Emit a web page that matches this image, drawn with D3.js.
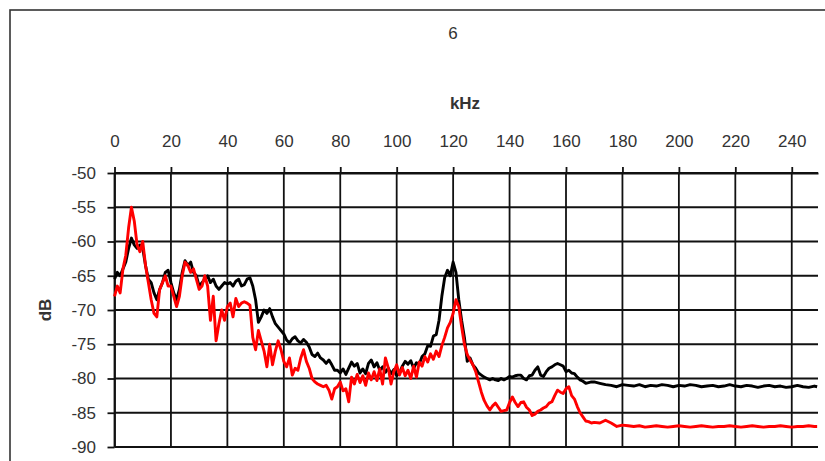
<!DOCTYPE html>
<html>
<head>
<meta charset="utf-8">
<script src="https://cdn.jsdelivr.net/npm/d3@7"></script>
<style>
    html, body { margin: 0; padding: 0; background: #fff; }
    svg { display: block; font-family: "Liberation Sans", Arial, sans-serif; }
    .tick text { font-size: 17px; fill: #333; }
    .grid-line { stroke: #111; stroke-width: 1.8; }
    .axis path, .axis line { stroke: #111; stroke-width: 1.8; }
</style>
</head>
<body>
<div class="d3-graph"></div>
<script>
// chart values
var chartTitle = '6';
var xTitle = 'kHz';
var yTitle = 'dB';

var xTicks = [0, 20, 40, 60, 80, 100, 120, 140, 160, 180, 200, 220, 240];
var yTicks = [-50, -55, -60, -65, -70, -75, -80, -85, -90];

// frequency (kHz) of each sample
var freq = [
    0, 1, 2, 3, 4, 5, 6, 7, 8, 9, 10, 11, 12, 13, 14, 15, 16, 17, 18, 19,
    20, 21, 22, 23, 24, 25, 26, 27, 28, 29, 30, 31, 32, 33, 34, 35, 36, 37, 38, 39,
    40, 41, 42, 43, 44, 45, 46, 47, 48, 49, 50, 51, 52, 53, 54, 55, 56, 57, 58, 59,
    60, 61, 62, 63, 64, 65, 66, 67, 68, 69, 70, 71, 72, 73, 74, 75, 76, 77, 78, 79,
    80, 81, 82, 83, 84, 85, 86, 87, 88, 89, 90, 91, 92, 93, 94, 95, 96, 97, 98, 99,
    100, 101, 102, 103, 104, 105, 106, 107, 108, 109, 110, 111, 112, 113, 114, 115, 116, 117, 118, 119,
    120, 121, 122, 123, 124, 125, 126, 127, 128, 129, 130, 131, 132, 133, 134, 135, 136, 137, 138, 139,
    140, 141, 142, 143, 144, 145, 146, 147, 148, 149, 150, 151, 152, 153, 154, 155, 156, 157, 158, 159,
    160, 161, 162, 163, 164, 165, 166, 167, 168, 169, 170,
    172, 174, 176, 178, 180, 182, 184, 186, 188, 190, 192, 194, 196, 198, 200, 202, 204, 206, 208, 210,
    212, 214, 216, 218, 220, 222, 224, 226, 228, 230, 232, 234, 236, 238, 240, 242, 244, 246, 248, 249
];

// black trace (dB)
var blackDb = [
    -65.5, -64.5, -65, -64, -63, -61, -59.5, -60.5, -61, -60.5,
    -61, -63.5, -65.5, -66, -67.5, -68.5, -67, -66, -64.5, -64.2,
    -66, -67.5, -68.5, -67, -64.5, -62.8, -63.5, -63, -64.5, -65,
    -66.5, -66, -65.5, -65, -66, -65.5, -66.5, -67, -66.5, -66,
    -66.2, -66, -66.5, -65.8, -65.5, -66.5, -66.3, -65.5, -65.3, -66.5,
    -68.5, -71.8, -71, -70, -70.5, -69.8, -71, -72, -72.5, -73,
    -73.5, -74.4, -74.8, -74.2, -73.9, -74.5, -74.8, -74.3, -74.7, -75.4,
    -76.5, -76.8, -76.3, -77, -77.3, -77.8, -77.3, -78, -78.8, -78.8,
    -79.2, -78.6, -79.4, -78.5, -77.6, -78.2, -77.8, -79.2, -78.6, -79.3,
    -77.8, -77.3, -78.3, -77.7, -78.8, -78.3, -79.1, -78.5, -79.3, -78.7,
    -79.6, -79.2, -78.2, -77.5, -77.9, -77.4, -78.5, -77.7, -77.9, -76.8,
    -76.4, -75.2, -75.3, -73.8, -73.6, -71.5, -68, -65.3, -64.2, -65,
    -63, -64.5, -68.5, -71.5, -74, -77.5, -77, -78, -78.5, -79.2,
    -79.5, -79.8, -80, -80.2, -80, -80.2, -80.3, -80, -80.2, -80,
    -79.7, -79.8, -79.6, -79.5, -79.5, -80, -80.2, -79.6, -79.5, -78.8,
    -78.3, -79.5, -79.7, -79, -78.5, -78.3, -78, -77.8, -78, -78.2,
    -79, -78.8, -79.2, -79.3, -79.8, -80.2, -80.4, -80.7, -80.6, -80.5,
    -80.5,
    -80.7, -80.9, -81.0, -81.2, -80.9, -81.0, -81.1, -80.9, -81.2, -81.0,
    -81.1, -80.9, -81.0, -81.2, -81.0, -81.1, -80.9, -81.0, -81.2, -81.1,
    -81.0, -81.2, -81.1, -80.9, -81.1, -81.2, -81.0, -81.1, -81.3, -81.1,
    -81.0, -81.2, -81.1, -81.3, -81.2, -81.0, -81.2, -81.3, -81.1, -81.2
];

// red trace (dB)
var redDb = [
    -68, -66.5, -67.5, -64, -62, -58, -55, -57, -60.5, -61.5,
    -60, -63.5, -66, -68.5, -70.5, -71, -67, -66, -65, -66.5,
    -66.5, -68, -69.5, -68, -65, -63, -63.5, -64.5, -64, -65.5,
    -67, -66.5, -65, -66.5, -71.5, -68, -74.5, -72, -70, -71.5,
    -69.5, -69, -71, -68.3, -69.5, -69, -68.8, -69, -69.3, -74,
    -75.8, -73, -74.5, -76, -78.3, -75, -78, -76, -74.5, -75.8,
    -77.5, -78.3, -77, -79.5, -78.5, -78.8, -77, -75.8, -77.5, -78.5,
    -80, -80.5, -80.8, -81, -81.2, -81, -81.7, -83, -81.5, -81.2,
    -80.5, -81.8, -81.5, -83.4, -79.8, -80.8, -79.4, -80.6, -79.6, -81,
    -79.2, -80.2, -79, -80.3, -78.6, -80.8, -77, -78.4, -80.8, -79,
    -78, -79.5, -78.4, -79.6, -78.8, -80, -78.2, -79.8, -77.6, -78.2,
    -76.8, -77.6, -76.4, -77.2, -76, -76.8, -75.2, -74, -72.6, -71.8,
    -70.5, -68.5, -69.5, -72.4, -75, -76.5, -77.3, -78, -79, -80.5,
    -82, -83.2, -84, -84.6, -84, -83.6, -84.2, -84.8, -84.7, -84.6,
    -83.5, -82.7, -83.5, -84.1, -83.5, -83.4, -84.2, -84.6, -85.4, -85.2,
    -84.8, -84.6, -84.3, -84.1, -83.6, -83.4, -82.5, -81.7, -82, -82.2,
    -81.5, -81.2, -82.5, -83, -84.1, -85, -85.6, -86.2, -86.3, -86.5,
    -86.4,
    -86.5, -86.1, -86.5, -87.0, -86.8, -86.9, -87.0, -86.9, -87.1, -87.0,
    -86.9, -87.0, -87.1, -87.0, -86.9, -87.0, -87.1, -87.0, -86.9, -87.0,
    -87.1, -87.0, -87.0, -86.9, -87.0, -87.1, -87.0, -86.9, -87.0, -87.1,
    -87.0, -87.0, -86.9, -87.0, -87.1, -87.0, -87.0, -86.9, -87.0, -87.0
];

(function () {
    "use strict";

    var width = 825, height = 461;
    var plot = { left: 114.5, right: 818, top: 173, bottom: 447 };

    var svg = d3.select('.d3-graph').append('svg')
        .attr('width', width)
        .attr('height', height);

    // chart area frame (runs off the right and bottom of the picture)
    svg.append('rect')
        .attr('x', 10).attr('y', 10)
        .attr('width', 830).attr('height', 470)
        .attr('fill', 'none')
        .attr('stroke', '#333')
        .attr('stroke-width', 1.6);

    var x = d3.scaleLinear().domain([0, 249.3]).range([plot.left, plot.right]);
    var y = d3.scaleLinear().domain([-50, -90]).range([plot.top, plot.bottom]);

    // plain hyphen for negative labels, like the original
    var fmt = function (d) { return String(d); };

    // grid
    svg.append('g').selectAll('line.h')
        .data(yTicks)
        .enter().append('line')
        .attr('class', 'grid-line')
        .attr('x1', plot.left).attr('x2', plot.right)
        .attr('y1', function (d) { return y(d); })
        .attr('y2', function (d) { return y(d); });

    svg.append('g').selectAll('line.v')
        .data(xTicks)
        .enter().append('line')
        .attr('class', 'grid-line')
        .attr('x1', function (d) { return x(d); })
        .attr('x2', function (d) { return x(d); })
        .attr('y1', plot.top).attr('y2', plot.bottom);

    // axes
    var xAxis = d3.axisTop(x).tickValues(xTicks).tickFormat(fmt)
        .tickSizeInner(6).tickSizeOuter(0).tickPadding(20);
    svg.append('g')
        .attr('class', 'x axis')
        .attr('transform', 'translate(0,' + plot.top + ')')
        .call(xAxis);

    var yAxis = d3.axisLeft(y).tickValues(yTicks).tickFormat(fmt)
        .tickSizeInner(7).tickSizeOuter(0).tickPadding(11.5);
    svg.append('g')
        .attr('class', 'y axis')
        .attr('transform', 'translate(' + plot.left + ',0)')
        .call(yAxis);

    svg.selectAll('.axis text').attr('font-family', null).attr('font-size', null);

    // traces
    var line = d3.line()
        .x(function (d) { return x(d[0]); })
        .y(function (d) { return y(d[1]); });

    var series = [
        { color: '#000000', values: d3.zip(freq, blackDb) },
        { color: '#ff0000', values: d3.zip(freq, redDb) }
    ];

    svg.selectAll('.trace')
        .data(series)
        .enter().append('path')
        .attr('class', 'trace')
        .attr('fill', 'none')
        .attr('stroke', function (d) { return d.color; })
        .attr('stroke-width', 2.9)
        .attr('stroke-linejoin', 'round')
        .attr('d', function (d) { return line(d.values); });

    // titles
    svg.append('text')
        .attr('x', 453).attr('y', 39)
        .attr('text-anchor', 'middle')
        .attr('font-size', 17)
        .attr('fill', '#333')
        .text(chartTitle);

    svg.append('text')
        .attr('x', 465).attr('y', 109)
        .attr('text-anchor', 'middle')
        .attr('font-size', 17)
        .attr('font-weight', 'bold')
        .attr('fill', '#333')
        .text(xTitle);

    svg.append('text')
        .attr('transform', 'translate(51,310) rotate(-90)')
        .attr('text-anchor', 'middle')
        .attr('font-size', 17)
        .attr('font-weight', 'bold')
        .attr('fill', '#333')
        .text(yTitle);
})();
</script>
</body>
</html>
